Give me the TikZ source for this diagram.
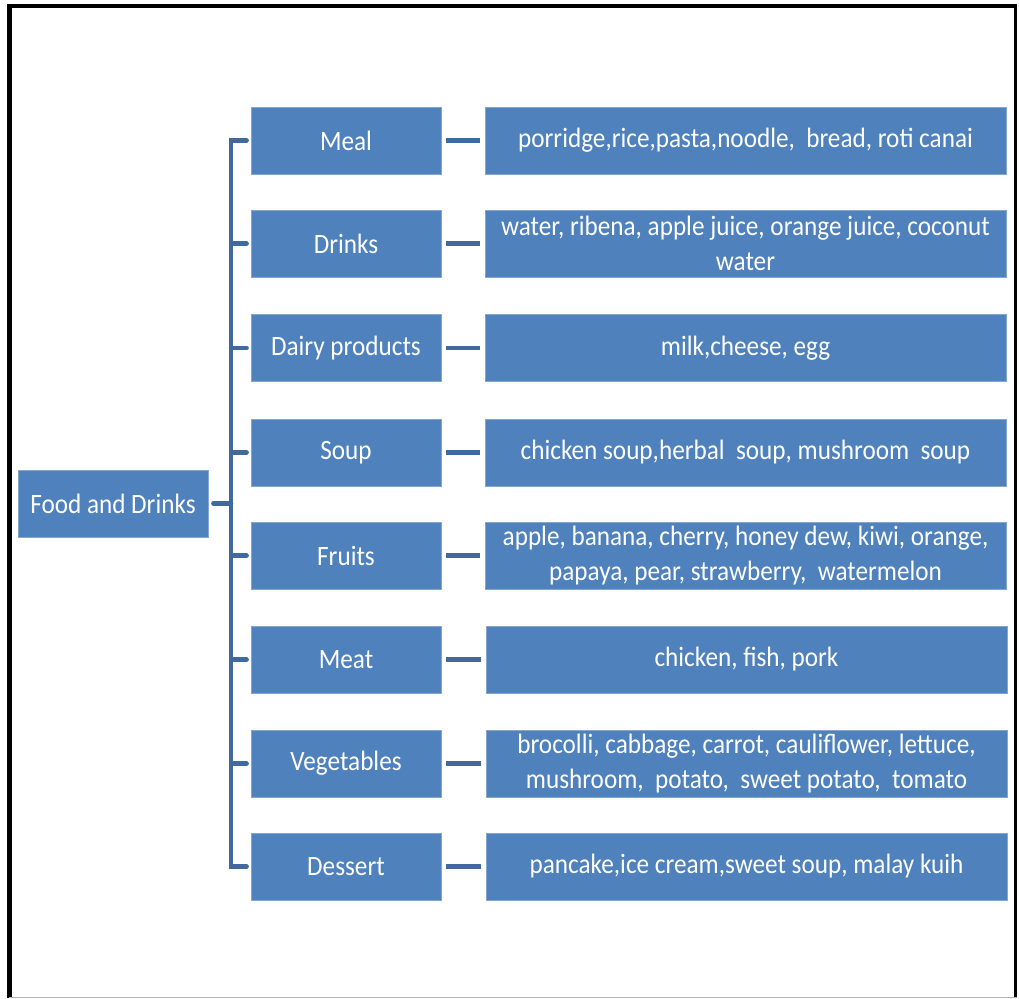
\documentclass[tikz,border=0pt]{standalone}
\usepackage{fontspec}
\setmainfont{Carlito}[FakeStretch=0.9]
\definecolor{boxblue}{HTML}{4F81BD}
\definecolor{linkblue}{HTML}{41699B}
\begin{document}
\begin{tikzpicture}[x=1pt,y=-1pt,
  box/.style={rectangle, fill=boxblue, draw=boxblue!70!white, line width=0.8pt,
    text=white, align=center, inner sep=2pt,
    font=\fontsize{28}{35}\selectfont},
  rootbox/.style={box, minimum width=190pt, minimum height=67pt},
  catbox/.style={box, minimum width=190pt, minimum height=67pt},
  itembox/.style={box, minimum width=521pt, minimum height=67pt},
  conn/.style={draw=linkblue, line width=4.5pt, line cap=round, line join=miter}]
  \useasboundingbox (0,0) rectangle (1019,998);
  % page frame
  \draw[black, line width=5pt] (9.5,998) -- (9.5,6);
  \draw[black, line width=4pt] (7,6) -- (1017,6);
  \draw[black, line width=3pt] (1015,4) -- (1015,998);
  \draw[gray!60, line width=1pt] (9,997.5) -- (1017,997.5);

  % root
  \node[rootbox] (root) at (113,503.5) {Food and Drinks};

  % categories and their items
  \node[catbox] (c1) at (346,140.5) {Meal};
  \node[catbox] (c2) at (346,243.5) {Drinks};
  \node[catbox] (c3) at (346,348) {Dairy products};
  \node[catbox] (c4) at (346,452.5) {Soup};
  \node[catbox] (c5) at (346,555.5) {Fruits};
  \node[catbox] (c6) at (346,659.5) {Meat};
  \node[catbox] (c7) at (346,763.5) {Vegetables};
  \node[catbox] (c8) at (346,866.5) {Dessert};

  \node[itembox] (d1) at (745.5,140.5) {porridge,rice,pasta,noodle, \ bread, roti canai};
  \node[itembox] (d2) at (745.5,243.5) {water, ribena, apple juice, orange juice, coconut\\water};
  \node[itembox] (d3) at (745.5,348) {milk,cheese, egg};
  \node[itembox] (d4) at (745.5,452.5) {chicken soup,herbal \ soup, mushroom \ soup};
  \node[itembox] (d5) at (745.5,555.5) {apple, banana, cherry, honey dew, kiwi, orange,\\papaya, pear, strawberry, \ watermelon};
  \node[itembox] (d6) at (746.5,659.5) {chicken, fish, pork};
  \node[itembox] (d7) at (746.5,763.5) {brocolli, cabbage, carrot, cauliflower, lettuce,\\mushroom, \ potato, \ sweet potato, \ tomato};
  \node[itembox] (d8) at (746.5,866.5) {pancake,ice cream,sweet soup, malay kuih};

  % bracket bus
  \coordinate (bus) at (231,503.5);
  \draw[conn, shorten <=4pt, shorten >=4pt]
    (c1.west) -- (c1.west -| bus) -- (c8.west -| bus) -- (c8.west);
  \foreach \i in {2,...,7}
    \draw[conn, shorten <=4pt] (c\i.west) -- (c\i.west -| bus);
  \draw[conn, shorten <=5pt] (root.east) -- (root.east -| bus);

  % category to item links
  \foreach \i in {1,...,8}
    \draw[conn, line cap=butt, shorten <=5pt, shorten >=5pt] (c\i.east) -- (c\i.east -| d\i.west);
\end{tikzpicture}
\end{document}
